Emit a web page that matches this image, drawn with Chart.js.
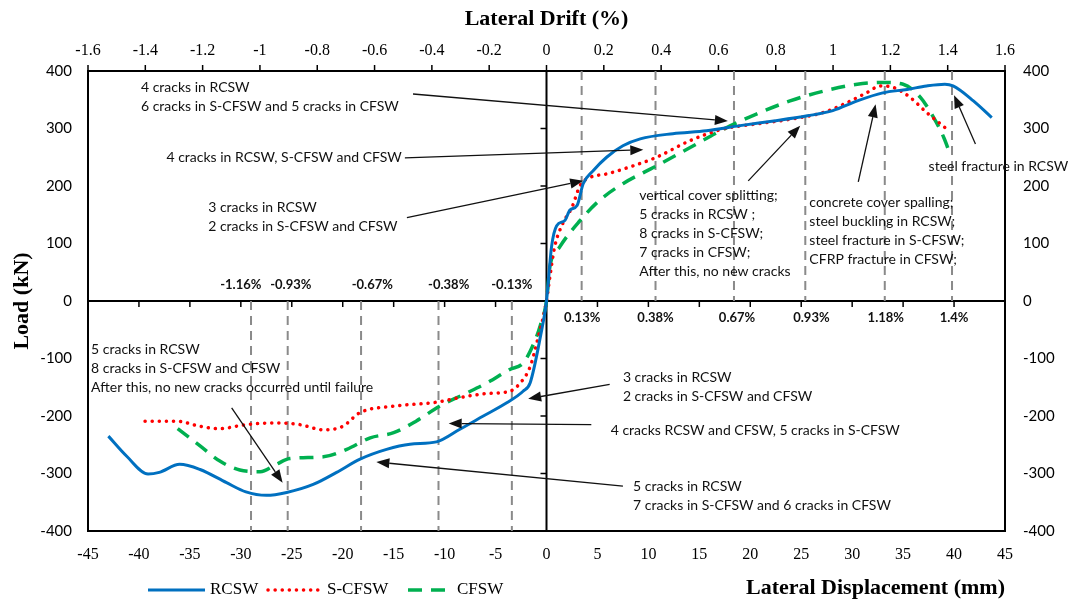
<!DOCTYPE html>
<html>
<head>
<meta charset="utf-8">
<script src="https://cdn.jsdelivr.net/npm/chart.js@4.4.0/dist/chart.umd.min.js"></script>
<style>
  body { margin: 0; background: #fff; }
  canvas { display: block; }
</style>
</head>
<body>
<canvas id="loadChart" width="1072" height="604"></canvas>
<script>
// envelope curves: lateral displacement (mm) vs load (kN)
const rcswDisp = [-43.0, -41.2, -39.1, -38.0, -36.0, -34.0, -31.4, -29.5, -27.5, -25.5, -22.9, -20.6, -18.3, -15.7, -13.4, -10.8, -8.5, -6.2, -3.9, -2.3, -1.6, -0.6, 0, 0.5, 1.0, 1.8, 2.3, 3.0, 3.6, 4.6, 5.9, 7.5, 9.2, 12.4, 15.7, 19.0, 22.3, 25.6, 28.1, 30.5, 33.0, 35.4, 37.3, 39.1, 39.9, 41.9, 43.7];
const rcswLoad = [-235, -270, -301, -298, -284, -293, -316, -332, -338, -333, -319, -298, -275, -258, -249, -245, -223, -200, -177, -157, -142, -62, 0, 95, 131, 140, 158, 166, 204, 227, 250, 270, 282, 291, 296, 305, 313, 322, 331, 348, 362, 368, 374, 377, 374, 348, 319];

const scfswDisp = [-39.4, -36.3, -34.0, -32.1, -29.5, -26.5, -24.2, -21.9, -20.0, -18.3, -15.0, -10.8, -8.5, -5.9, -3.6, -2.6, -1.6, -0.8, 0, 0.33, 0.8, 1.6, 2.5, 3.3, 4.3, 5.9, 8.5, 10.8, 14.1, 17.3, 20.6, 23.9, 27.2, 29.5, 31.4, 32.8, 34.1, 35.7, 37.3, 39.5];
const scfswLoad = [-209, -209, -218, -222, -215, -212, -215, -224, -218, -194, -183, -176, -168, -161, -157, -143, -114, -62, 0, 42, 94, 135, 163, 201, 215, 221, 235, 250, 279, 299, 308, 316, 328, 345, 362, 374, 371, 354, 328, 296];

const cfswDisp = [-36.2, -34.0, -32.1, -30.1, -28.1, -26.5, -25.2, -21.9, -19.6, -17.3, -15.0, -12.8, -10.5, -8.2, -5.9, -3.6, -2.3, -1.3, -0.6, 0, 0.33, 1.3, 3.3, 5.2, 7.5, 10.8, 14.1, 17.4, 20.6, 23.9, 27.2, 30.5, 33.1, 35.0, 36.7, 38.0, 39.0, 39.6];
const cfswLoad = [-222, -252, -278, -294, -297, -284, -274, -271, -258, -238, -229, -209, -183, -163, -143, -119, -108, -76, -42, 0, 59, 94, 140, 175, 204, 235, 267, 299, 325, 348, 365, 377, 380, 377, 354, 319, 284, 256];

// grey dashed drift marks (mm) and their labels
const marksNeg = [-29.0, -25.4, -18.2, -10.6, -3.4];
const marksPos = [3.45, 10.7, 18.4, 25.4, 33.2, 39.8];
const labelsNeg = ['-1.16%', '-0.93%', '-0.67%', '-0.38%', '-0.13%'];
const labelsPos = ['0.13%', '0.38%', '0.67%', '0.93%', '1.18%', '1.4%'];
const labelsNegAt = [-30.0, -25.1, -17.1, -9.6, -3.4];
const labelsPosAt = [3.5, 10.7, 18.7, 26.0, 33.3, 40.0];

const dispMin = -45, dispMax = 45;
const loadMin = -400, loadMax = 400;
const driftMin = -1.6, driftMax = 1.6;

// callouts: first line anchored at [disp, load]
const notes = [
  { at: [-39.8, 371], lines: ['4 cracks in RCSW', '6 cracks in S-CFSW and 5 cracks in CFSW'] },
  { at: [-37.3, 249], lines: ['4 cracks in RCSW, S-CFSW and CFSW'] },
  { at: [-33.2, 162], lines: ['3 cracks in RCSW', '2 cracks in S-CFSW and CFSW'] },
  { at: [9.1, 184], lines: ['vertical cover splitting;', '5 cracks in RCSW ;', '8 cracks in S-CFSW;', '7 cracks in CFSW;', 'After this, no new cracks'] },
  { at: [25.8, 172], lines: ['concrete cover spalling;', 'steel buckling in RCSW;', 'steel fracture in S-CFSW;', 'CFRP fracture in CFSW;'] },
  { at: [37.5, 234], lines: ['steel fracture in RCSW'] },
  { at: [-44.7, -85], lines: ['5 cracks in RCSW', '8 cracks in S-CFSW and CFSW', 'After this, no new cracks occurred until failure'] },
  { at: [7.5, -133], lines: ['3 cracks in RCSW', '2 cracks in S-CFSW and CFSW'] },
  { at: [6.3, -225], lines: ['4 cracks RCSW and CFSW, 5 cracks in S-CFSW'] },
  { at: [8.5, -323], lines: ['5 cracks in RCSW', '7 cracks in S-CFSW and 6 cracks in CFSW'] }
];

// arrows: [fromDisp, fromLoad, toDisp, toLoad]
const arrows = [
  [-13.1, 360, 17.8, 313],
  [-13.9, 249, 9.5, 263],
  [-13.7, 145, 3.6, 209],
  [19.8, 209, 24.9, 305],
  [30.6, 207, 32.3, 342],
  [42.1, 273, 40.0, 358],
  [-30.9, -186, -25.9, -316],
  [6.2, -145, -1.8, -170],
  [4.4, -215, -9.6, -213],
  [7.5, -322, -16.7, -280]
];

const zip = (xs, ys) => xs.map((x, i) => ({ x: x, y: ys[i] }));

const markPoints = [];
marksNeg.forEach(v => markPoints.push({ x: v, y: 0 }, { x: v, y: loadMin }, { x: v, y: null }));
marksPos.forEach(v => markPoints.push({ x: v, y: loadMax }, { x: v, y: 0 }, { x: v, y: null }));

const SERIF = 'Liberation Serif';
const SANS = 'Lato';

function seg(ctx, x1, y1, x2, y2) {
  ctx.beginPath();
  ctx.moveTo(x1, y1);
  ctx.lineTo(x2, y2);
  ctx.stroke();
}

const overlay = {
  id: 'overlay',
  beforeDatasetsDraw(chart) {
    const { ctx, chartArea: a, scales } = chart;
    const x0 = scales.x.getPixelForValue(0);
    const y0 = scales.y.getPixelForValue(0);
    ctx.save();
    ctx.strokeStyle = '#000';
    ctx.lineWidth = 2;
    ctx.strokeRect(a.left, a.top, a.right - a.left, a.bottom - a.top);
    seg(ctx, a.left, y0, a.right, y0);
    seg(ctx, x0, a.top, x0, a.bottom);
    ctx.lineWidth = 1.5;
    scales.x.ticks.forEach(t => {
      const px = scales.x.getPixelForValue(t.value);
      seg(ctx, px, y0, px, y0 + 6);
    });
    scales.y.ticks.forEach(t => {
      const py = scales.y.getPixelForValue(t.value);
      seg(ctx, x0 - 6, py, x0, py);
    });
    // top axis ticks stick out above the frame
    scales.x2.ticks.forEach(t => {
      const px = scales.x2.getPixelForValue(t.value);
      seg(ctx, px, a.top - 6, px, a.top);
    });
    ctx.restore();
  },
  afterDatasetsDraw(chart) {
    const { ctx, scales } = chart;
    const X = v => scales.x.getPixelForValue(v);
    const Y = v => scales.y.getPixelForValue(v);
    ctx.save();

    // drift labels
    ctx.fillStyle = '#111';
    ctx.font = 'bold 13px ' + SANS;
    ctx.textAlign = 'center';
    ctx.textBaseline = 'middle';
    labelsNeg.forEach((t, i) => ctx.fillText(t, X(labelsNegAt[i]), Y(29)));
    labelsPos.forEach((t, i) => ctx.fillText(t, X(labelsPosAt[i]), Y(-29)));

    // callout text
    ctx.font = '14px ' + SANS;
    ctx.textAlign = 'left';
    notes.forEach(n => {
      n.lines.forEach((line, i) => ctx.fillText(line, X(n.at[0]), Y(n.at[1]) + i * 19));
    });

    // arrows
    ctx.strokeStyle = '#111';
    ctx.lineWidth = 1.3;
    arrows.forEach(([d1, l1, d2, l2]) => {
      const x1 = X(d1), y1 = Y(l1), x2 = X(d2), y2 = Y(l2);
      const ang = Math.atan2(y2 - y1, x2 - x1);
      const len = 13, half = 5;
      const bx = x2 - len * Math.cos(ang), by = y2 - len * Math.sin(ang);
      seg(ctx, x1, y1, bx, by);
      ctx.beginPath();
      ctx.moveTo(x2, y2);
      ctx.lineTo(bx + half * Math.sin(ang), by - half * Math.cos(ang));
      ctx.lineTo(bx - half * Math.sin(ang), by + half * Math.cos(ang));
      ctx.closePath();
      ctx.fill();
    });
    ctx.restore();
  },
  afterDraw(chart) {
    const { ctx } = chart;
    const items = chart.data.datasets.filter(d => d.label);
    const spots = [[148, 205], [268, 322], [408, 452]];
    ctx.save();
    ctx.font = '17px ' + SERIF;
    ctx.textBaseline = 'middle';
    ctx.fillStyle = '#000';
    items.forEach((d, i) => {
      const [a, b] = spots[i];
      ctx.strokeStyle = d.borderColor;
      ctx.lineWidth = d.borderWidth;
      ctx.lineCap = d.borderCapStyle || 'butt';
      ctx.setLineDash(d.borderDash || []);
      seg(ctx, a, 590, b, 590);
      ctx.setLineDash([]);
      ctx.fillText(d.label, b + 5, 590);
    });
    ctx.restore();
  }
};

new Chart(document.getElementById('loadChart'), {
  type: 'line',
  data: {
    datasets: [
      {
        label: 'RCSW',
        data: zip(rcswDisp, rcswLoad),
        borderColor: '#0070C0',
        borderWidth: 3,
        pointRadius: 0,
        cubicInterpolationMode: 'monotone',
        order: 0
      },
      {
        label: 'S-CFSW',
        data: zip(scfswDisp, scfswLoad),
        borderColor: '#FF0000',
        borderWidth: 3.5,
        borderDash: [0.1, 7],
        borderCapStyle: 'round',
        pointRadius: 0,
        cubicInterpolationMode: 'monotone',
        order: 1
      },
      {
        label: 'CFSW',
        data: zip(cfswDisp, cfswLoad),
        borderColor: '#00B050',
        borderWidth: 3.5,
        borderDash: [14, 9],
        pointRadius: 0,
        cubicInterpolationMode: 'monotone',
        order: 2
      },
      {
        data: markPoints,
        borderColor: '#8a8a8a',
        borderWidth: 2,
        borderDash: [9, 6],
        pointRadius: 0,
        spanGaps: false,
        order: 5
      }
    ]
  },
  options: {
    responsive: false,
    animation: false,
    layout: { padding: 0 },
    plugins: {
      legend: { display: false },
      tooltip: { enabled: false }
    },
    scales: {
      x: {
        type: 'linear',
        position: 'bottom',
        min: dispMin,
        max: dispMax,
        grid: { display: false },
        border: { display: false },
        ticks: { stepSize: 5, padding: 6, color: '#000', font: { family: SERIF, size: 16 } },
        title: {
          display: true,
          text: 'Lateral Displacement (mm)',
          align: 'end',
          color: '#000',
          padding: { top: 0, bottom: 2 },
          font: { family: SERIF, size: 22, weight: 'bold' }
        },
        afterFit: s => { s.height = 73; }
      },
      x2: {
        type: 'linear',
        position: 'top',
        min: driftMin,
        max: driftMax,
        grid: { display: false },
        border: { display: false },
        ticks: {
          stepSize: 0.2,
          padding: 3,
          color: '#000',
          font: { family: SERIF, size: 16 },
          callback: v => String(Math.round(v * 10) / 10)
        },
        title: {
          display: true,
          text: 'Lateral Drift (%)',
          color: '#000',
          padding: { top: 6, bottom: 0 },
          font: { family: SERIF, size: 22, weight: 'bold' }
        },
        afterFit: s => { s.height = 71; }
      },
      y: {
        type: 'linear',
        position: 'left',
        min: loadMin,
        max: loadMax,
        grid: { display: false },
        border: { display: false },
        ticks: { stepSize: 100, padding: 8, color: '#000', font: { family: SANS, size: 15 } },
        title: {
          display: true,
          text: 'Load (kN)',
          color: '#000',
          padding: { top: 9, bottom: 0 },
          font: { family: SERIF, size: 22, weight: 'bold' }
        },
        afterFit: s => { s.width = 88; }
      },
      y2: {
        type: 'linear',
        position: 'right',
        min: loadMin,
        max: loadMax,
        grid: { display: false },
        border: { display: false },
        ticks: { stepSize: 100, padding: 10, color: '#000', font: { family: SANS, size: 15 } },
        afterFit: s => { s.width = 67; }
      }
    }
  },
  plugins: [overlay]
});
</script>
</body>
</html>
